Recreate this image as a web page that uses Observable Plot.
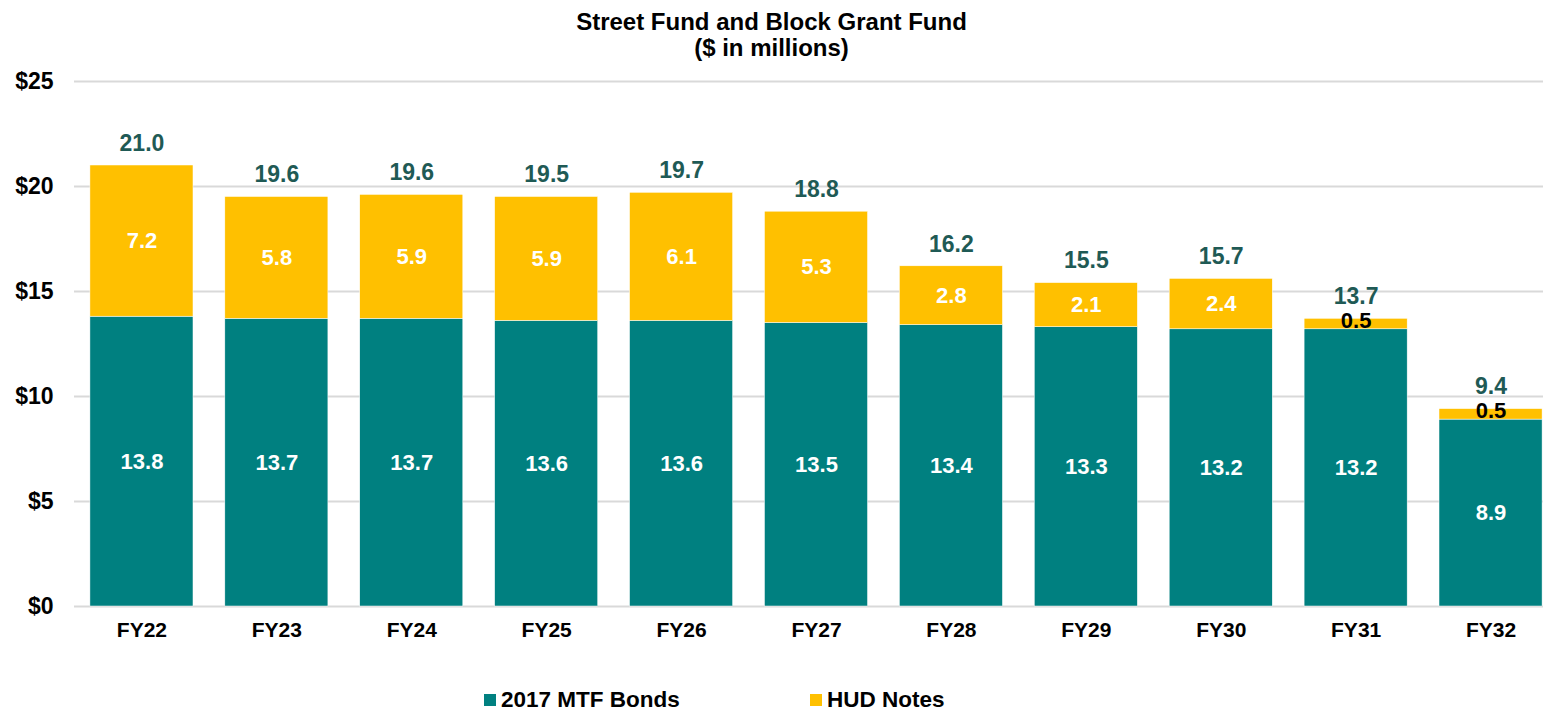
<!DOCTYPE html>
<html>
<head>
<meta charset="utf-8">
<script src="https://cdn.jsdelivr.net/npm/d3@7"></script>
<script src="https://cdn.jsdelivr.net/npm/@observablehq/plot@0.6"></script>
<style>
  html, body { margin: 0; padding: 0; background: #fff; overflow: hidden; }
  body { width: 1543px; height: 713px; font-family: "Liberation Sans", Arial, sans-serif; }
  #title { height: 60px; text-align: center; font-weight: bold; font-size: 24px; line-height: 26px; padding-top: 9px; box-sizing: border-box; color: #000; }
  #legend { position: relative; font-weight: bold; font-size: 22.5px; color: #000; height: 30px; margin-top: 35px; }
  .item { display: flex; align-items: center; position: absolute; top: 0; height: 30px; }
  .sw { width: 12px; height: 12px; margin-right: 5px; }
</style>
</head>
<body>
<div id="title">Street Fund and Block Grant Fund<br>($ in millions)</div>
<div id="chart"></div>
<div id="legend"></div>
<script>
const years = ["FY22","FY23","FY24","FY25","FY26","FY27","FY28","FY29","FY30","FY31","FY32"];
const mtfBonds = [13.8,13.7,13.7,13.6,13.6,13.5,13.4,13.3,13.2,13.2,8.9];
const hudNotes = [7.2,5.8,5.9,5.9,6.1,5.3,2.8,2.1,2.4,0.5,0.5];
const totals = [21.0,19.6,19.6,19.5,19.7,18.8,16.2,15.5,15.7,13.7,9.4];
const seriesNames = ["2017 MTF Bonds","HUD Notes"];
const seriesColors = ["#008080","#FFC000"];
const yTicks = [0,5,10,15,20,25];

const rows = [];
years.forEach((y,i) => {
  rows.push({year: y, series: seriesNames[0], value: mtfBonds[i], base: 0});
  rows.push({year: y, series: seriesNames[1], value: hudNotes[i], base: mtfBonds[i]});
});
const bigRows = rows.filter(d => d.value >= 1);
const smallRows = rows.filter(d => d.value < 1);
const totalRows = years.map((y,i) => ({year: y, total: totals[i], top: mtfBonds[i] + hudNotes[i]}));

const chart = Plot.plot({
  width: 1543,
  height: 590,
  marginLeft: 74,
  marginRight: 0,
  marginTop: 21,
  marginBottom: 44,
  style: {fontFamily: "Liberation Sans, Arial, sans-serif", background: "#fff"},
  x: {domain: years, range: [74, 1558], paddingInner: 0.236, paddingOuter: 0.118, round: false, label: null},
  y: {domain: [0, 25], label: null},
  color: {domain: seriesNames, range: seriesColors},
  marks: [
    Plot.ruleY(yTicks, {stroke: "#d9d9d9", strokeWidth: 2}),
    Plot.barY(rows, {x: "year", y1: "base", y2: d => d.base + d.value, fill: "series", stroke: "#fff", strokeWidth: 0.5}),
    Plot.text(bigRows, {x: "year", y: d => d.base + d.value / 2, text: d => d.value.toFixed(1),
      fill: "#fff", fontSize: 22, fontWeight: "bold"}),
    Plot.text(smallRows, {x: "year", y: d => d.base + d.value / 2, text: d => d.value.toFixed(1),
      fill: "#000", fontSize: 22, fontWeight: "bold", dy: -3}),
    Plot.text(totalRows, {x: "year", y: "top", text: d => d.total.toFixed(1), fill: "#1F5A55",
      fontSize: 23, fontWeight: "bold", dy: -22}),
    Plot.axisY({ticks: yTicks, tickFormat: d => "$" + d, tickSize: 0, tickPadding: 21, fontSize: 23, fontWeight: "bold", fill: "#000"}),
    Plot.axisX({tickSize: 0, tickPadding: 16, fontSize: 21, fontWeight: "bold", fill: "#000"})
  ]
});
document.getElementById("chart").appendChild(chart);

const legend = document.getElementById("legend");
const lx = [484, 810];
seriesNames.forEach((n, i) => {
  const it = document.createElement("div");
  it.className = "item";
  it.style.left = lx[i] + "px";
  const sw = document.createElement("div");
  sw.className = "sw";
  sw.style.background = seriesColors[i];
  const tx = document.createElement("span");
  tx.textContent = n;
  it.appendChild(sw); it.appendChild(tx);
  legend.appendChild(it);
});
</script>
</body>
</html>
